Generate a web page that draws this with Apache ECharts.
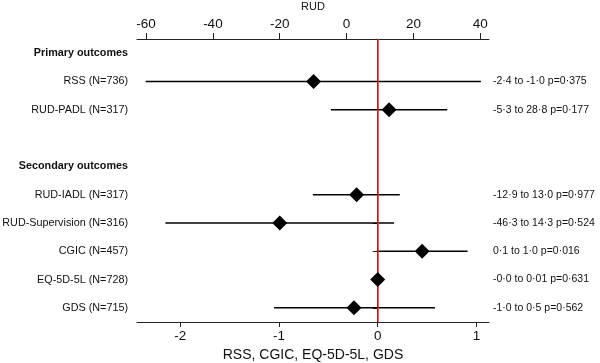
<!DOCTYPE html>
<html>
<head>
<meta charset="utf-8">
<script src="https://cdn.jsdelivr.net/npm/echarts@6/dist/echarts.min.js"></script>
<style>
  html, body { margin: 0; padding: 0; background: #fff; }
  #main { width: 600px; height: 363px; }
</style>
</head>
<body>
<div id="main"></div>
<script>
// rows of the forest plot, top to bottom ('' = empty spacer row)
var rows = ['Primary outcomes', 'RSS (N=736)', 'RUD-PADL (N=317)', '', 'Secondary outcomes',
  'RUD-IADL (N=317)', 'RUD-Supervision (N=316)', 'CGIC (N=457)', 'EQ-5D-5L (N=728)', 'GDS (N=715)'];
var headers = ['Primary outcomes', 'Secondary outcomes'];
var ciText = ['', '-2·4 to -1·0 p=0·375', '-5·3 to 28·8 p=0·177', '', '',
  '-12·9 to 13·0 p=0·977', '-46·3 to 14·3 p=0·524', '0·1 to 1·0 p=0·016',
  '-0·0 to 0·01 p=0·631', '-1·0 to 0·5 p=0·562'];

// outcomes on the bottom scale (RSS, CGIC, EQ-5D-5L, GDS): [row, estimate, low, high]
var scaleRows = [1, 7, 8, 9];
var scaleEst = [-0.65, 0.45, 0, -0.24];
var scaleLow = [-2.35, -0.01, 0, -1.05];
var scaleHigh = [1.045, 0.91, 0, 0.58];

// outcomes on the top scale (RUD)
var rudRows = [2, 5, 6];
var rudEst = [12.7, 3.0, -20.0];
var rudLow = [-4.7, -10.1, -54.2];
var rudHigh = [30.1, 15.9, 14.2];

var bottomTicks = [-2, -1, 0, 1];
var topTicks = [-60, -40, -20, 0, 20, 40];

var font = 'Liberation Sans, Arial, sans-serif';
var ink = '#111';

var myChart = echarts.init(document.getElementById('main'));

function ciData(r, lo, hi) {
  var out = [];
  for (var i = 0; i < r.length; i++) {
    out.push([r[i], lo[i], hi[i]]);
  }
  return out;
}
function pointData(r, est) {
  var out = [];
  for (var i = 0; i < r.length; i++) {
    out.push([est[i], r[i]]);
  }
  return out;
}
function renderCI(params, api) {
  var a = api.coord([api.value(1), api.value(0)]);
  var b = api.coord([api.value(2), api.value(0)]);
  return {
    type: 'line',
    shape: { x1: a[0], y1: a[1], x2: b[0], y2: b[1] },
    style: { stroke: '#000', lineWidth: 1.5 }
  };
}

myChart.setOption({
  animation: false,
  backgroundColor: '#fff',
  textStyle: { fontFamily: font, color: ink },
  grid: { left: 137, right: 111, top: 39, bottom: 41, containLabel: false, outerBoundsMode: 'none' },
  xAxis: [
    {
      type: 'value',
      position: 'bottom',
      min: -2.438,
      max: 1.127,
      name: 'RSS, CGIC, EQ-5D-5L, GDS',
      nameLocation: 'middle',
      nameGap: 26,
      nameTextStyle: { fontSize: 14, color: ink, fontFamily: font },
      axisLine: { show: true, lineStyle: { color: '#222', width: 1 } },
      axisTick: { show: true, length: 5, customValues: bottomTicks, lineStyle: { color: '#222' } },
      axisLabel: { customValues: bottomTicks, fontSize: 13.5, color: ink, margin: 7, fontFamily: font },
      splitLine: { show: false }
    },
    {
      type: 'value',
      position: 'top',
      min: -62.7,
      max: 42.6,
      name: 'RUD',
      nameLocation: 'middle',
      nameGap: 27,
      nameTextStyle: { fontSize: 11, color: ink, fontFamily: font },
      axisLine: { show: true, lineStyle: { color: '#222', width: 1 } },
      axisTick: { show: true, length: 6, customValues: topTicks, lineStyle: { color: '#222' } },
      axisLabel: { customValues: topTicks, fontSize: 13.5, color: ink, margin: 8, fontFamily: font },
      splitLine: { show: false }
    }
  ],
  yAxis: [
    {
      type: 'category',
      data: rows,
      inverse: true,
      position: 'left',
      axisLine: { show: true, lineStyle: { color: '#222', width: 1 } },
      axisTick: {
        show: true,
        length: 5,
        alignWithLabel: true,
        interval: function (index, value) {
          return value !== '' && headers.indexOf(value) < 0;
        },
        lineStyle: { color: '#222' }
      },
      axisLabel: {
        interval: 0,
        margin: 9,
        fontSize: 10.8,
        color: ink,
        fontFamily: font,
        formatter: function (value) {
          if (headers.indexOf(value) >= 0) {
            return '{h|' + value + '}';
          }
          return value;
        },
        rich: {
          h: { fontSize: 10.8, fontWeight: 'bold', color: ink, fontFamily: font }
        }
      },
      splitLine: { show: false }
    },
    {
      type: 'category',
      data: rows,
      inverse: true,
      position: 'right',
      axisLine: { show: false },
      axisTick: { show: false },
      axisLabel: {
        interval: 0,
        margin: 4,
        fontSize: 10.5,
        color: ink,
        fontFamily: font,
        formatter: function (value, index) {
          return ciText[index];
        }
      },
      splitLine: { show: false }
    }
  ],
  series: [
    {
      name: 'ci-scale',
      type: 'custom',
      xAxisIndex: 0,
      yAxisIndex: 0,
      renderItem: renderCI,
      encode: { x: [1, 2], y: 0 },
      data: ciData(scaleRows, scaleLow, scaleHigh),
      z: 2,
      markLine: {
        silent: true,
        symbol: 'none',
        label: { show: false },
        lineStyle: { color: '#f01e1e', type: 'solid', width: 1.5 },
        data: [{ xAxis: 0 }]
      }
    },
    {
      name: 'ci-rud',
      type: 'custom',
      xAxisIndex: 1,
      yAxisIndex: 0,
      renderItem: renderCI,
      encode: { x: [1, 2], y: 0 },
      data: ciData(rudRows, rudLow, rudHigh),
      z: 2
    },
    {
      name: 'est-scale',
      type: 'scatter',
      xAxisIndex: 0,
      yAxisIndex: 0,
      symbol: 'diamond',
      symbolSize: 15,
      itemStyle: { color: '#000', opacity: 1 },
      data: pointData(scaleRows, scaleEst),
      z: 5
    },
    {
      name: 'est-rud',
      type: 'scatter',
      xAxisIndex: 1,
      yAxisIndex: 0,
      symbol: 'diamond',
      symbolSize: 15,
      itemStyle: { color: '#000', opacity: 1 },
      data: pointData(rudRows, rudEst),
      z: 5
    }
  ]
});
</script>
</body>
</html>
